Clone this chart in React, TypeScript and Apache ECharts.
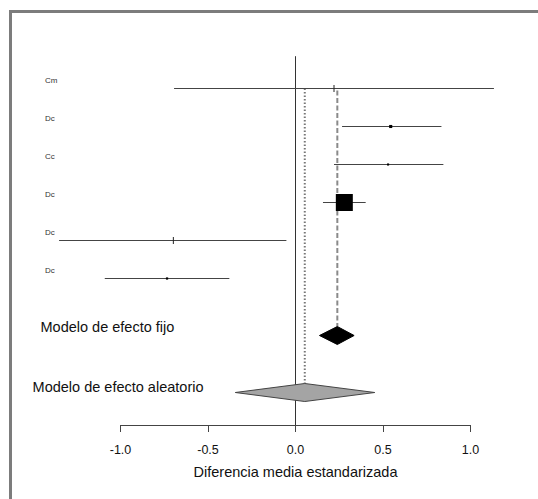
import React, { useEffect, useRef } from "react";
import * as echarts from "echarts";

// ---- data ----
const studyLabels = ["Cm", "Dc", "Cc", "Dc", "Dc", "Dc"];
const studyEst = [0.22, 0.544, 0.529, 0.279, -0.698, -0.734];
const studyLower = [-0.694, 0.266, 0.22, 0.157, -1.351, -1.09];
const studyUpper = [1.134, 0.834, 0.845, 0.401, -0.052, -0.378];
const studyWeight = [0.3, 3.1, 1.4, 93.3, 0.3, 1.6];

const summaryLabels = ["Modelo de efecto fijo", "Modelo de efecto aleatorio"];
const summaryEst = [0.239, 0.053];
const summaryLower = [0.137, -0.344];
const summaryUpper = [0.335, 0.453];

const xTickValues = [-1.0, -0.5, 0.0, 0.5, 1.0];
const xAxisTitle = "Diferencia media estandarizada";

// ---- layout constants ----
const W = 538;
const H = 499;
const ROW0 = 88.5;
const ROWSTEP = 38;
const summaryRows = [6.5, 8];
const AXIS_Y = 425;
const AXIS_ROW = (AXIS_Y - ROW0) / ROWSTEP;
const FONT = "'Liberation Sans', Arial, Helvetica, sans-serif";

export default function App() {
  const ref = useRef<HTMLDivElement>(null);

  useEffect(() => {
    if (!ref.current) return;
    const chart = echarts.init(ref.current, undefined, { renderer: "svg" });
    const maxW = Math.max(...studyWeight);

    const studyData = studyLabels.map((_, i) => [
      i,
      studyLower[i],
      studyUpper[i],
      studyEst[i],
      studyWeight[i],
    ]);
    const summaryData = summaryLabels.map((_, i) => [
      summaryRows[i],
      summaryLower[i],
      summaryUpper[i],
      summaryEst[i],
      i,
    ]);

    const summaryLabelX = [40.5, 32.6];
    const summaryLabelDy = [-8.7, -6];
    const diamondHalf = 9;

    const option: any = {
      animation: false,
      backgroundColor: "#ffffff",
      grid: [
        { left: 15.5, right: 15, top: 0, bottom: 0 },
        { left: 120.5, right: W - 470.5, top: AXIS_Y - 10, height: 10 },
      ],
      xAxis: [
        {
          type: "value",
          gridIndex: 0,
          min: -1.6,
          max: 1.3,
          show: false,
        },
        {
          type: "value",
          gridIndex: 1,
          min: -1,
          max: 1,
          interval: 0.5,
          position: "bottom",
          axisLine: { show: true, lineStyle: { color: "#444", width: 1 } },
          axisTick: { show: true, length: 7, lineStyle: { color: "#444", width: 1 } },
          splitLine: { show: false },
          axisLabel: {
            margin: 18,
            fontSize: 12.5,
            color: "#111",
            fontFamily: FONT,
            formatter: (v: number) => v.toFixed(1),
            customValues: xTickValues,
          },
          axisPointer: { show: false },
          name: xAxisTitle,
          nameLocation: "middle",
          nameGap: 39.5,
          nameTextStyle: { fontSize: 14.5, color: "#111", fontFamily: FONT },
        },
      ],
      yAxis: [
        {
          type: "value",
          gridIndex: 0,
          inverse: true,
          min: -ROW0 / ROWSTEP,
          max: (H - ROW0) / ROWSTEP,
          show: false,
        },
        { type: "value", gridIndex: 1, show: false, min: 0, max: 1 },
      ],
      series: [
        // reference lines
        {
          type: "custom",
          xAxisIndex: 0,
          yAxisIndex: 0,
          silent: true,
          data: [[0]],
          z: 1,
          renderItem: (params: any, api: any) => {
            const zTop = api.coord([0, -0.85]);
            const zBot = api.coord([0, AXIS_ROW]);
            const fTop = api.coord([summaryEst[0], 0]);
            const fBot = api.coord([summaryEst[0], summaryRows[0]]);
            const rTop = api.coord([summaryEst[1], 0]);
            const rBot = api.coord([summaryEst[1], summaryRows[1]]);
            return {
              type: "group",
              children: [
                {
                  type: "line",
                  shape: { x1: zTop[0], y1: zTop[1], x2: zBot[0], y2: zBot[1] },
                  style: { stroke: "#333", lineWidth: 1 },
                },
                {
                  type: "line",
                  shape: { x1: fTop[0], y1: fTop[1] + 2, x2: fBot[0], y2: fBot[1] - diamondHalf },
                  style: { stroke: "#8a8a8a", lineWidth: 2, lineDash: [5, 2.5] },
                },
                {
                  type: "line",
                  shape: { x1: rTop[0], y1: rTop[1], x2: rBot[0], y2: rBot[1] - diamondHalf },
                  style: { stroke: "#777", lineWidth: 2, lineDash: [1.5, 2] },
                },
              ],
            };
          },
        },
        // studies
        {
          type: "custom",
          xAxisIndex: 0,
          yAxisIndex: 0,
          silent: true,
          data: studyData,
          z: 3,
          renderItem: (params: any, api: any) => {
            const i = api.value(0);
            const lo = api.coord([api.value(1), i]);
            const hi = api.coord([api.value(2), i]);
            const c = api.coord([api.value(3), i]);
            const w = api.value(4);
            const size = 17 * Math.sqrt(w / maxW);
            const children: any[] = [
              {
                type: "line",
                shape: { x1: lo[0], y1: lo[1], x2: hi[0], y2: hi[1] },
                style: { stroke: "#444", lineWidth: 1 },
              },
            ];
            if (size < 1.5) {
              children.push({
                type: "line",
                shape: { x1: c[0], y1: c[1] - 3.5, x2: c[0], y2: c[1] + 3.5 },
                style: { stroke: "#222", lineWidth: 1 },
              });
            } else {
              children.push({
                type: "rect",
                shape: { x: c[0] - size / 2, y: c[1] - size / 2, width: size, height: size },
                style: { fill: "#000" },
              });
            }
            return { type: "group", children };
          },
        },
        // summaries
        {
          type: "custom",
          xAxisIndex: 0,
          yAxisIndex: 0,
          silent: true,
          data: summaryData,
          z: 4,
          renderItem: (params: any, api: any) => {
            const r = api.value(0);
            const k = api.value(4);
            const lo = api.coord([api.value(1), r]);
            const hi = api.coord([api.value(2), r]);
            const c = api.coord([api.value(3), r]);
            const pts = [
              [lo[0], lo[1]],
              [c[0], c[1] - diamondHalf],
              [hi[0], hi[1]],
              [c[0], c[1] + diamondHalf],
            ];
            return {
              type: "group",
              children: [
                {
                  type: "polygon",
                  shape: { points: pts },
                  style:
                    k === 0
                      ? { fill: "#000", stroke: "#000", lineWidth: 1 }
                      : { fill: "#a4a4a4", stroke: "#444", lineWidth: 1 },
                },
                {
                  type: "text",
                  x: summaryLabelX[k],
                  y: c[1] + summaryLabelDy[k],
                  style: {
                    text: summaryLabels[k],
                    fontSize: 14.5,
                    fill: "#111",
                    fontFamily: FONT,
                    verticalAlign: "middle",
                    align: "left",
                  },
                },
              ],
            };
          },
        },
      ],
    };

    chart.setOption(option);

    const labelGraphics: any[] = studyLabels.map((lab, i) => {
      const p = chart.convertToPixel({ gridIndex: 0 } as any, [0, i]) as number[];
      return {
        type: "text",
        x: 45,
        y: p[1] - 8,
        silent: true,
        z: 50,
        style: {
          text: lab,
          fontSize: 8,
          fontFamily: FONT,
          fill: "#333333",
          verticalAlign: "middle",
          align: "left",
        },
      };
    });

    chart.setOption({
      graphic: [
        {
          type: "rect",
          shape: { x: 10.5, y: 11.5, width: 700, height: 700 },
          style: { fill: "none", stroke: "#7c7c7c", lineWidth: 3 },
          silent: true,
          z: 100,
        },
        ...labelGraphics,
      ],
    });

    return () => chart.dispose();
  }, []);

  return (
    <div
      ref={ref}
      style={{ position: "fixed", left: 0, top: 0, width: W, height: H, background: "#fff" }}
    />
  );
}
